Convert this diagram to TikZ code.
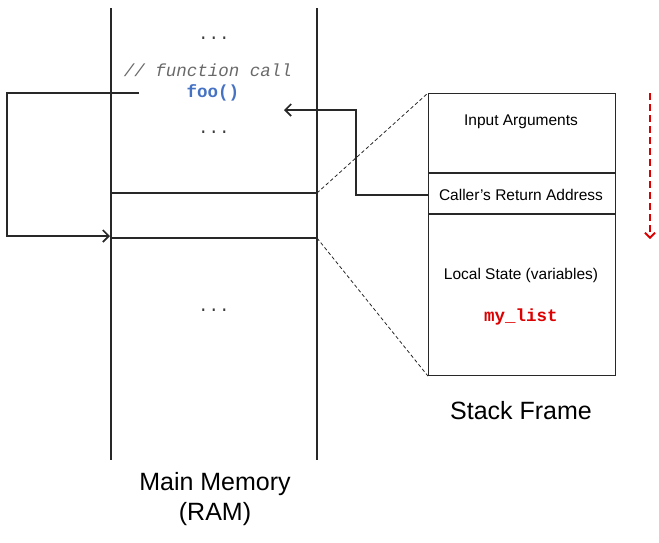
\documentclass[tikz,border=0pt]{standalone}
\usepackage{fontspec}
\setmainfont{Liberation Sans}
\setmonofont{Liberation Mono}
\usetikzlibrary{arrows.meta}
\definecolor{linec}{RGB}{40,40,40}
\definecolor{codeblue}{RGB}{70,114,196}
\definecolor{codered}{RGB}{220,0,0}
\definecolor{comgray}{RGB}{105,105,105}
\definecolor{dotgray}{RGB}{60,60,60}
\begin{document}
\begin{tikzpicture}[x=1pt,y=-1pt,
  ln/.style={draw=linec,line width=1.1pt},
  arr/.style={ln,-{Straight Barb[length=6pt,width=12pt,line width=1.7pt]}},
  dsh/.style={draw=linec,line width=0.8pt,dash pattern=on 3.5pt off 2.5pt},
  small/.style={font=\fontsize{15.5}{18}\selectfont,text=black,inner sep=0pt},
  big/.style={font=\fontsize{25}{30}\selectfont,text=black,inner sep=0pt,align=center},
  code/.style={font=\fontsize{17.5}{20}\selectfont\ttfamily,inner sep=0pt}]
\useasboundingbox (0,0) rectangle (659,542);
% RAM column
\coordinate (r1t) at (111,8); \coordinate (r1b) at (111,460);
\coordinate (r2t) at (317,8); \coordinate (r2b) at (317,460);
\draw[ln] (r1t) -- (r1b);
\draw[ln] (r2t) -- (r2b);
\coordinate (a1) at (111,193); \coordinate (a2) at (317,193);
\coordinate (b1) at (111,238); \coordinate (b2) at (317,238);
\draw[ln] (a1) -- (a2);
\draw[ln] (b1) -- (b2);
% texts in RAM
\node[code,text=dotgray] (d1) at (214,38) {...};
\node[code,text=comgray,font=\fontsize{17.5}{20}\selectfont\ttfamily\itshape] (fc) at (208,70) {// function call};
\node[code,text=codeblue,font=\fontsize{17.5}{20}\selectfont\ttfamily\bfseries] (foo) at (213,93) {foo()};
\node[code,text=dotgray] (d2) at (214,132) {...};
\node[code,text=dotgray] (d3) at (214,310) {...};
\node[big] (ram) at (215,499) {Main Memory\\(RAM)};
% call loop
\coordinate (cs) at (139,93);
\coordinate (ce) at (110,236);
\draw[arr] (cs) -- (7,93) -- (7,236) -- (ce);
% stack frame
\node[draw=linec,line width=1.1pt,minimum width=187pt,minimum height=282pt,inner sep=0pt,anchor=north west] (sf) at (428,93) {};
\coordinate (s1l) at (428,173); \coordinate (s1r) at (615,173);
\coordinate (s2l) at (428,214); \coordinate (s2r) at (615,214);
\draw[ln] (s1l) -- (s1r);
\draw[ln] (s2l) -- (s2r);
\node[small] (ia) at (521,122) {Input Arguments};
\node[small] (cra) at (521,195) {Caller’s Return Address};
\node[small] (ls) at (521,275) {Local State (variables)};
\node[code,text=codered,font=\fontsize{17.5}{20}\selectfont\ttfamily\bfseries] (ml) at (521,317) {my\_list};
\node[big] (sft) at (521,411) {Stack Frame};
% dashed zoom lines
\draw[dsh] (a2) -- (sf.north west);
\draw[dsh] (b2) -- (sf.south west);
% return arrow
\coordinate (rs) at (428,195);
\coordinate (re) at (284,110);
\draw[arr] (rs) -- (356,195) -- (356,110) -- (re);
% red dashed arrow
\coordinate (gt) at (650,93);
\coordinate (gb) at (650,239);
\draw[draw=codered,line width=2pt,dash pattern=on 7pt off 4pt,-{Straight Barb[length=5pt,width=10pt,line width=1.8pt]}] (gt) -- (gb);
\end{tikzpicture}
\end{document}
